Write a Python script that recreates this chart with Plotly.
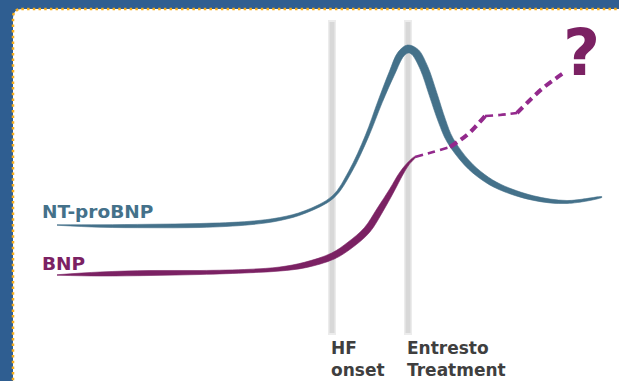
import numpy as np
import plotly.graph_objects as go

# ---- data (time on x, biomarker level on y; canvas-unit scale) ----
nt_time  = [57, 100, 150, 200, 250, 280, 305, 333, 350, 367, 380, 392, 401, 408, 415, 424, 433, 442, 450, 467, 483, 500, 533, 567, 602]
nt_level = [156, 155, 155, 155.5, 158, 162, 169, 184, 209, 245, 279, 308, 327, 332, 329, 313, 287, 260, 241, 218, 204, 194, 183, 179, 184]
nt_width = [0.5, 2.5, 3.5, 4, 3.5, 3, 2.5, 2.5, 3, 3.5, 4.5, 6, 7, 8, 8, 8, 8, 7.5, 7, 6.5, 6, 5.5, 4.5, 3, 0.5]

bnp_time  = [57, 100, 150, 200, 250, 280, 305, 333, 350, 367, 380, 392, 401, 408, 415]
bnp_level = [106, 107, 108, 108.5, 110, 112, 116, 125, 136, 151, 171, 191, 207, 217, 224]
bnp_width = [0.5, 4, 5, 4, 3.5, 4, 5.5, 6.5, 7, 7, 6.5, 5, 4, 2.5, 1]

proj_time  = [415, 433, 450, 467, 477, 485, 500, 517, 528, 543, 565]
proj_level = [224, 229, 234, 246, 256, 265, 266, 268, 279, 293, 309]

event_time   = [332, 408]
event_labels = ["HF<br>onset", "Entresto<br>Treatment"]
series_names = ["NT-proBNP", "BNP"]

BLUE = "#44718a"
PURPLE = "#7b2163"
MAGENTA = "#93298c"
GREY_TXT = "#3f3f3f"
BG = "#2f5e91"
FONT = "DejaVu Sans"


def ribbon(x, y, w):
    x = np.asarray(x, float); y = np.asarray(y, float); w = np.asarray(w, float)
    dx = np.gradient(x); dy = np.gradient(y)
    n = np.hypot(dx, dy)
    nx, ny = -dy / n, dx / n
    ux, uy = x + nx * w / 2, y + ny * w / 2
    lx, ly = x - nx * w / 2, y - ny * w / 2
    return np.concatenate([ux, lx[::-1]]), np.concatenate([uy, ly[::-1]])


fig = go.Figure()

for t, lv, wd, col in [(nt_time, nt_level, nt_width, BLUE), (bnp_time, bnp_level, bnp_width, PURPLE)]:
    px_, py_ = ribbon(t, lv, wd)
    fig.add_trace(go.Scatter(x=px_, y=py_, mode="lines", fill="toself", fillcolor=col,
                             line=dict(color=col, width=0.6, shape="spline", smoothing=1),
                             hoverinfo="skip", showlegend=False))

# dashed projection, in segments of varying weight
segs = [(0, 3, 2.6), (2, 6, 4.2), (5, 8, 2.6), (7, 11, 4.0)]
for a, b, wdt in segs:
    fig.add_trace(go.Scatter(x=proj_time[a:b], y=proj_level[a:b], mode="lines",
                             line=dict(color=MAGENTA, width=wdt, dash="8px,5px", shape="spline"),
                             hoverinfo="skip", showlegend=False))

shapes = []
# white panel with rounded corner and dotted border
panel = "M 13,-5 L 13,363 Q 13,372 22,372 L 640,372 L 640,-5 Z"
shapes.append(dict(type="path", path=panel, xref="x", yref="y", fillcolor="white",
                   line=dict(width=0), layer="below"))
shapes.append(dict(type="path", path="M 13,-5 L 13,363 Q 13,372 22,372 L 640,372",
                   xref="x", yref="y", line=dict(color="#f5ad1c", width=2.5, dash="2.5px,3.2px"),
                   layer="below"))
for et in event_time:
    shapes.append(dict(type="line", x0=et, x1=et, y0=46, y1=361, xref="x", yref="y",
                       line=dict(color="#ececec", width=8), layer="below"))
    shapes.append(dict(type="line", x0=et, x1=et, y0=48, y1=359, xref="x", yref="y",
                       line=dict(color="#d8d8d8", width=5), layer="below"))

ann = []
ann.append(dict(x=40, y=170, text="<b>" + series_names[0] + "</b>", showarrow=False,
                xanchor="left", yanchor="middle",
                font=dict(family=FONT, size=18.5, color=BLUE)))
ann.append(dict(x=40, y=118, text="<b>" + series_names[1] + "</b>", showarrow=False,
                xanchor="left", yanchor="middle",
                font=dict(family=FONT, size=18.5, color=PURPLE)))
for et, lab in zip(event_time, event_labels):
    ann.append(dict(x=et - 3, y=45, text="<b>" + lab + "</b>", showarrow=False,
                    xanchor="left", yanchor="top", align="left",
                    font=dict(family=FONT, size=17, color=GREY_TXT)))
ann.append(dict(x=581, y=328, text="<b>?</b>", showarrow=False, xanchor="center", yanchor="middle",
                font=dict(family=FONT, size=64, color=PURPLE)))

fig.update_layout(width=619, height=381, margin=dict(l=0, r=0, t=0, b=0),
                  paper_bgcolor=BG, plot_bgcolor=BG,
                  xaxis=dict(range=[0, 619], visible=False, fixedrange=True),
                  yaxis=dict(range=[0, 381], visible=False, fixedrange=True),
                  shapes=shapes, annotations=ann, showlegend=False)

fig.write_html("out.html", config={"displayModeBar": False, "staticPlot": True},
               post_script="document.body.style.margin='0';document.body.style.overflow='hidden';")
